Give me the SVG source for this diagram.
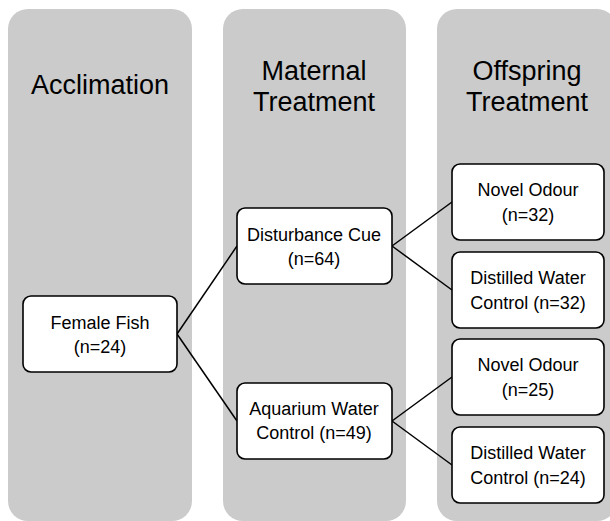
<svg xmlns="http://www.w3.org/2000/svg" width="610" height="521" viewBox="0 0 610 521">
<style>
.panel{fill:#cbcbcb;stroke:none}
.title{font-family:"Liberation Sans",Arial,sans-serif;font-size:27px;fill:#000;text-anchor:middle}
.box{fill:#fff;stroke:#000;stroke-width:1.6}
.lbl{font-family:"Liberation Sans",Arial,sans-serif;font-size:18px;fill:#000;text-anchor:middle}
.conn{stroke:#000;stroke-width:1.5;fill:none}
</style>
<rect width="610" height="521" fill="#fff"/>
<g id="panel-acclimation">
<rect class="panel" x="8" y="9" width="184" height="512" rx="20"/>
<text class="title" x="100" y="94">Acclimation</text>
</g>
<g id="panel-maternal">
<rect class="panel" x="223" y="9" width="183" height="512" rx="20"/>
<text class="title" x="314" y="80">Maternal</text>
<text class="title" x="314" y="111">Treatment</text>
</g>
<g id="panel-offspring">
<rect class="panel" x="437" y="9" width="180" height="512" rx="20"/>
<text class="title" x="527" y="80">Offspring</text>
<text class="title" x="527" y="111">Treatment</text>
</g>
<g id="connectors">
<line class="conn" x1="177" y1="334" x2="237" y2="246"/>
<line class="conn" x1="177" y1="334" x2="237" y2="421"/>
<line class="conn" x1="392" y1="246" x2="452" y2="202"/>
<line class="conn" x1="392" y1="246" x2="452" y2="290"/>
<line class="conn" x1="392" y1="421" x2="452" y2="377"/>
<line class="conn" x1="392" y1="421" x2="452" y2="465"/>
</g>
<g id="female-fish">
<rect class="box" x="23" y="296" width="154" height="76" rx="8"/>
<text class="lbl" x="100" y="329">Female Fish</text>
<text class="lbl" x="100" y="353">(n=24)</text>
</g>
<g id="disturbance-cue">
<rect class="box" x="237" y="208" width="155" height="76" rx="8"/>
<text class="lbl" x="314" y="241">Disturbance Cue</text>
<text class="lbl" x="314" y="265">(n=64)</text>
</g>
<g id="aquarium-water-control">
<rect class="box" x="237" y="383" width="155" height="76" rx="8"/>
<text class="lbl" x="314" y="415">Aquarium Water</text>
<text class="lbl" x="314" y="439">Control (n=49)</text>
</g>
<g id="novel-odour-32">
<rect class="box" x="452" y="164" width="152" height="76" rx="8"/>
<text class="lbl" x="528" y="196">Novel Odour</text>
<text class="lbl" x="528" y="221">(n=32)</text>
</g>
<g id="distilled-water-32">
<rect class="box" x="452" y="252" width="152" height="76" rx="8"/>
<text class="lbl" x="528" y="284">Distilled Water</text>
<text class="lbl" x="528" y="309">Control (n=32)</text>
</g>
<g id="novel-odour-25">
<rect class="box" x="452" y="339" width="152" height="76" rx="8"/>
<text class="lbl" x="528" y="371">Novel Odour</text>
<text class="lbl" x="528" y="396">(n=25)</text>
</g>
<g id="distilled-water-24">
<rect class="box" x="452" y="427" width="152" height="76" rx="8"/>
<text class="lbl" x="528" y="459">Distilled Water</text>
<text class="lbl" x="528" y="484">Control (n=24)</text>
</g>
</svg>
